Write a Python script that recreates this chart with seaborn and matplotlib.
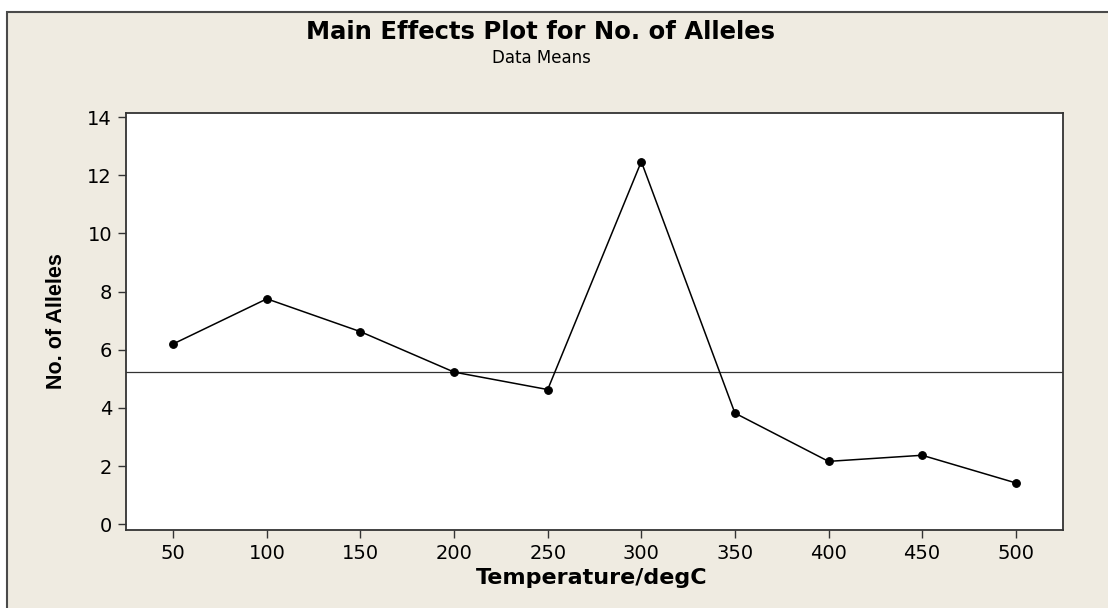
import matplotlib
matplotlib.use("Agg")
import matplotlib.pyplot as plt
from matplotlib.patches import Rectangle
import seaborn as sns
import pandas as pd

# data
temperatures = ["50", "100", "150", "200", "250", "300", "350", "400", "450", "500"]
mean_alleles = [6.2, 7.75, 6.62, 5.23, 4.63, 12.47, 3.82, 2.16, 2.37, 1.42]
grand_mean = 5.22
y_ticks = [0, 2, 4, 6, 8, 10, 12, 14]

BG = "#EFEBE1"

sns.set_style("ticks")
plt.rcParams["font.family"] = ["DejaVu Sans"]
plt.rcParams["text.color"] = "black"

fig = plt.figure(figsize=(11.08, 6.08), dpi=100)
fig.patch.set_facecolor("white")
# beige panel, border only visible on top/left (rest runs off the canvas)
fig.patches.append(Rectangle((7 / 1108, -0.1), 1.1, 0.1 + (608 - 12) / 608,
                             transform=fig.transFigure, facecolor=BG,
                             edgecolor="#4a4a4a", linewidth=1.5, zorder=-10))

ax = fig.add_axes([126 / 1108, (608 - 530) / 608, (1063 - 126) / 1108, (530 - 113) / 608])
ax.set_facecolor("white")

df = pd.DataFrame({"temp": temperatures, "alleles": mean_alleles})
sns.pointplot(data=df, x="temp", y="alleles", order=temperatures, color="black",
              markers="o", markersize=5.5, linewidth=1.1, ax=ax)
ax.axhline(grand_mean, color="#333333", linewidth=0.9, zorder=1)

ax.set_xlim(-0.505, 9.505)
ax.set_ylim(-0.2, 14.14)
ax.set_yticks(y_ticks)
ax.tick_params(axis="both", direction="out", length=6, width=1, color="#333333",
               labelsize=14, labelcolor="black", pad=4)
for s in ax.spines.values():
    s.set_visible(True)
    s.set_color("#333333")
    s.set_linewidth(1.3)

ax.set_xlabel("")
ax.set_ylabel("No. of Alleles", fontsize=15.5, fontweight="bold", color="black",
              family=["Liberation Sans Narrow", "Liberation Sans", "DejaVu Sans"], labelpad=15)

fig.text(541 / 1108, 1 - 32 / 608, "Main Effects Plot for No. of Alleles",
         ha="center", va="center", fontsize=17.5, fontweight="bold", color="black")
fig.text(541 / 1108, 1 - 58 / 608, "Data Means", ha="center", va="center",
         fontsize=12, color="black")
fig.text(592 / 1108, 1 - 578 / 608, "Temperature/degC", ha="center", va="center",
         fontsize=16, fontweight="bold", color="black")

fig.savefig("out.png", dpi=100, facecolor=fig.get_facecolor())
